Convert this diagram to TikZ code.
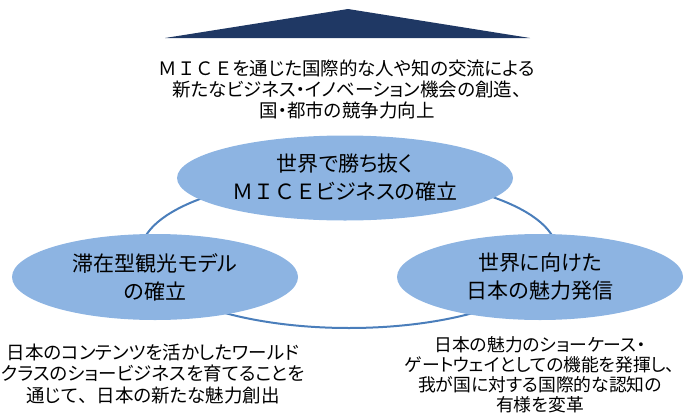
\documentclass[tikz,border=0pt]{standalone}
\usepackage{fontspec}
\usetikzlibrary{shapes.geometric}
\newfontfamily\jp[RawFeature=+palt]{Noto Sans CJK JP}
\newfontfamily\jpw{Noto Sans CJK JP}
\definecolor{navy}{RGB}{31,56,100}
\definecolor{ringblue}{RGB}{74,126,187}
\definecolor{ovalfill}{RGB}{141,180,226}
\tikzset{
  oval/.style={ellipse, fill=ovalfill, inner sep=0pt, minimum width=286pt, minimum height=86pt,
    align=center, font=\jp\fontsize{21}{28}\selectfont},
  note/.style={align=center, inner sep=0pt, font=\jp\fontsize{18.5}{21.5}\selectfont},
  ring/.style={draw=ringblue, line width=2pt}
}
\begin{document}
\begin{tikzpicture}[x=1pt,y=-1pt]
				\useasboundingbox (0,0) rectangle (683,418);
				
				\fill[navy] (165,38) -- (348,9) -- (530,38) -- cycle;
				\node[note, font=\jp\fontsize{18.5}{21}\selectfont] (goal) at (347,89) {{\jpw ＭＩＣＥ}を通じた国際的な人や知の交流による\\新たなビジネス・イノベーション機会の創造、\\国・都市の競争力向上};
				
				\draw[ring] (349,252) ellipse [x radius=208pt, y radius=76pt];
				
				\node[oval, minimum width=336pt, minimum height=85pt] (mice) at (345,178) {世界で勝ち抜く\\{\jpw ＭＩＣＥ}ビジネスの確立};
				\node[oval] (stay) at (155,277) {滞在型観光モデル\\の確立};
				\node[oval] (appeal) at (540,277) {世界に向けた\\日本の魅力発信};
				
				\node[note] (staynote) at (153,374) {日本のコンテンツを活かしたワールド\\クラスのショービジネスを育てることを\\通じて{\jpw 、}日本の新たな魅力創出};
				\node[note, font=\jp\fontsize{17.8}{20}\selectfont] (appealnote) at (540,375) {日本の魅力のショーケース・\\ゲートウェイとしての機能を発揮し、\\我が国に対する国際的な認知の\\有様を変革};
			\end{tikzpicture}
\end{document}
